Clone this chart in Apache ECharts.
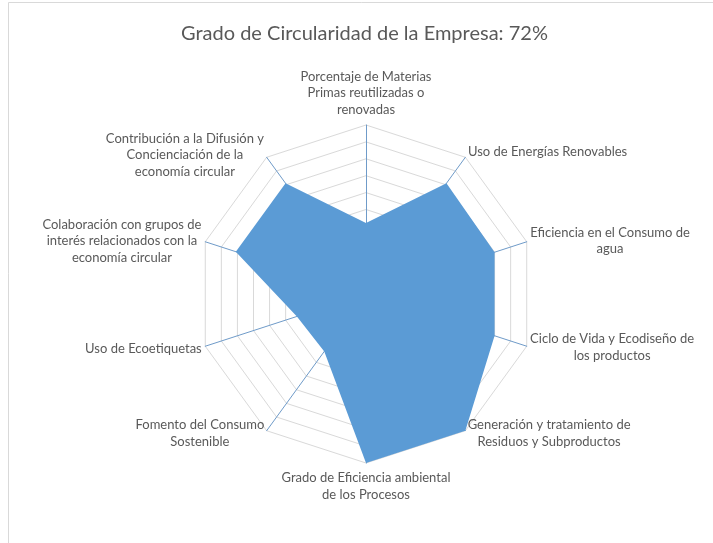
<!DOCTYPE html>
<html>
<head>
<meta charset="utf-8">
<script src="https://cdn.jsdelivr.net/npm/echarts@6/dist/echarts.min.js"></script>
<style>
html,body{margin:0;padding:0;background:#fff;}
#chart{width:713px;height:543px;}
</style>
</head>
<body>
<div id="chart"></div>
<script>
var titleText = 'Grado de Circularidad de la Empresa: 72%';
// categories in clockwise order starting at the top
var categories = [
  'Porcentaje de Materias\nPrimas reutilizadas o\nrenovadas',
  'Uso de Energías Renovables',
  'Eficiencia en el Consumo de\nagua',
  'Ciclo de Vida y Ecodiseño de\nlos productos',
  'Generación y tratamiento de\nResiduos y Subproductos',
  'Grado de Eficiencia ambiental\nde los Procesos',
  'Fomento del Consumo\nSostenible',
  'Uso de Ecoetiquetas',
  'Colaboración con grupos de\ninterés relacionados con la\neconomía circular',
  'Contribución a la Difusión y\nConcienciación de la\neconomía circular'
];
var values = [0.42, 0.81, 0.80, 0.80, 1.0, 1.0, 0.42, 0.43, 0.81, 0.81];
var axisMax = 1;
var splitCount = 10;

// ECharts radar runs counter-clockwise: reorder so the picture runs clockwise
var order = [0];
for (var k = categories.length - 1; k >= 1; k--) order.push(k);
var cwCategories = order.map(function (i) { return categories[i]; });
var cwValues = order.map(function (i) { return values[i]; });

var labelFontSize = 13;
var ctx = document.createElement('canvas').getContext('2d');
ctx.font = labelFontSize + 'px Lato';
var rich = {};
categories.forEach(function (name, i) {
  var w = 0;
  name.split('\n').forEach(function (l) { w = Math.max(w, ctx.measureText(l).width); });
  rich['c' + i] = { width: Math.ceil(w) + 1, align: 'center', fontFamily: 'Lato', fontSize: labelFontSize, color: '#595959', lineHeight: 16.5 };
});
// small vertical nudges for the single-line labels
rich.c1.padding = [0, 0, 6, 0];
rich.c7.padding = [4, 0, 0, 0];

var chart = echarts.init(document.getElementById('chart'), null, { renderer: 'canvas' });
chart.setOption({
  backgroundColor: '#ffffff',
  animation: false,
  title: {
    text: titleText,
    left: 176,
    top: 19,
    textStyle: { fontFamily: 'Lato', fontSize: 20, fontWeight: 'normal', color: '#595959' }
  },
  graphic: [{
    type: 'rect',
    shape: { x: 8.5, y: 2.5, width: 720, height: 560 },
    style: { fill: 'none', stroke: '#d9d9d9', lineWidth: 1 },
    silent: true
  }],
  radar: {
    center: [366, 294],
    radius: 169,
    startAngle: 90,
    shape: 'polygon',
    splitNumber: splitCount,
    indicator: cwCategories.map(function (c) { return { name: c, max: axisMax, min: 0 }; }),
    axisName: {
      formatter: function (value) {
        var idx = categories.indexOf(value);
        return value.split('\n').map(function (l) { return '{c' + idx + '|' + l + '}'; }).join('\n');
      },
      rich: rich,
      color: '#595959',
      fontFamily: 'Lato',
      fontSize: labelFontSize,
      padding: [4, 0, 4, 0]
    },
    nameGap: 3,
    splitLine: { lineStyle: { color: '#d9d9d9', width: 1 } },
    splitArea: { show: false },
    axisLine: { lineStyle: { color: '#6f9bc9', width: 1 } }
  },
  series: [{
    type: 'radar',
    symbol: 'none',
    lineStyle: { width: 0, color: '#5b9bd5' },
    areaStyle: { color: '#5b9bd5', opacity: 1 },
    data: [{ value: cwValues, name: 'Grado' }]
  }]
});
</script>
</body>
</html>
